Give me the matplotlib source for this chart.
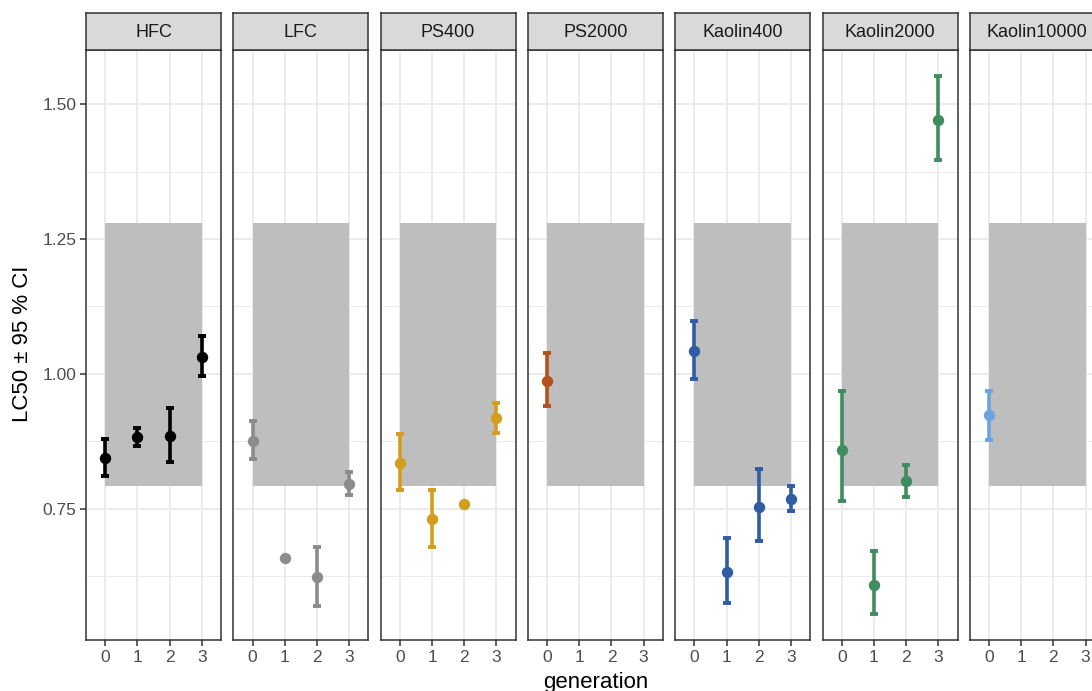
import numpy as np
import matplotlib
matplotlib.use("Agg")
import matplotlib.pyplot as plt
from matplotlib.patches import Rectangle

plt.rcParams['font.family'] = ['Liberation Sans', 'DejaVu Sans']

# Treatments (facets) and their colours
treatments = ["HFC", "LFC", "PS400", "PS2000", "Kaolin400", "Kaolin2000", "Kaolin10000"]
colors = ["#000000", "#8C8C8C", "#D39D1E", "#B5501B", "#2F5CA5", "#3F8C5E", "#6FA3DF"]

generations = [0, 1, 2, 3]

# LC50 estimates and 95 % confidence limits per generation
nan = np.nan
hfc_lc50 = [0.844, 0.882, 0.884, 1.032]
hfc_low = [0.810, 0.866, 0.837, 0.996]
hfc_high = [0.879, 0.899, 0.937, 1.070]

lfc_lc50 = [0.875, 0.658, 0.622, 0.795]
lfc_low = [0.841, nan, 0.569, 0.775]
lfc_high = [0.912, nan, 0.679, 0.818]

ps400_lc50 = [0.835, 0.730, 0.758, 0.918]
ps400_low = [0.785, 0.678, nan, 0.890]
ps400_high = [0.888, 0.784, nan, 0.945]

ps2000_lc50 = [0.987]
ps2000_low = [0.941]
ps2000_high = [1.038]

kaolin400_lc50 = [1.043, 0.632, 0.753, 0.768]
kaolin400_low = [0.991, 0.574, 0.690, 0.745]
kaolin400_high = [1.098, 0.696, 0.824, 0.791]

kaolin2000_lc50 = [0.859, 0.609, 0.801, 1.471]
kaolin2000_low = [0.764, 0.554, 0.772, 1.396]
kaolin2000_high = [0.968, 0.671, 0.831, 1.552]

kaolin10000_lc50 = [0.923]
kaolin10000_low = [0.878]
kaolin10000_high = [0.968]

series = [
    (hfc_lc50, hfc_low, hfc_high),
    (lfc_lc50, lfc_low, lfc_high),
    (ps400_lc50, ps400_low, ps400_high),
    (ps2000_lc50, ps2000_low, ps2000_high),
    (kaolin400_lc50, kaolin400_low, kaolin400_high),
    (kaolin2000_lc50, kaolin2000_low, kaolin2000_high),
    (kaolin10000_lc50, kaolin10000_low, kaolin10000_high),
]

# Reference band (control range) drawn in every panel
band_low, band_high = 0.791, 1.28

y_ticks = [0.75, 1.00, 1.25, 1.50]
y_minor = [0.625, 0.875, 1.125, 1.375]

W, H = 1092, 691
fig = plt.figure(figsize=(W / 100, H / 100), dpi=100)
fig.patch.set_facecolor("white")

panel_left0 = 86
panel_step = 147.3
panel_w = 135
panel_top = 50
panel_bottom = 640
strip_top = 13

dark = "#333333"
grid_c = "#EBEBEB"

for i, (name, col, (lc, lo, hi)) in enumerate(zip(treatments, colors, series)):
    x0 = panel_left0 + i * panel_step
    ax = fig.add_axes([x0 / W, (H - panel_bottom) / H, panel_w / W,
                       (panel_bottom - panel_top) / H])
    ax.set_xlim(-0.6, 3.6)
    ax.set_ylim(0.506, 1.601)
    ax.set_facecolor("white")
    for y in y_minor:
        ax.axhline(y, color=grid_c, lw=0.7, zorder=0)
    for y in y_ticks:
        ax.axhline(y, color=grid_c, lw=1.4, zorder=0)
    for g in generations:
        ax.axvline(g, color=grid_c, lw=1.4, zorder=0)

    ax.add_patch(Rectangle((0, band_low), 3, band_high - band_low,
                           facecolor="#BEBEBE", edgecolor="none", zorder=1))

    gens_a = np.array(generations[:len(lc)])
    lc_a = np.array(lc, dtype=float)
    lo_a = np.array(lo, dtype=float)
    hi_a = np.array(hi, dtype=float)
    ok = ~np.isnan(lo_a)
    if ok.any():
        ax.errorbar(gens_a[ok], lc_a[ok],
                    yerr=[lc_a[ok] - lo_a[ok], hi_a[ok] - lc_a[ok]],
                    fmt="none", ecolor=col, elinewidth=2.6, capsize=2.6,
                    capthick=2.8, zorder=3)
    ax.plot(gens_a, lc_a, "o", color=col, markersize=8.2, mec="none", zorder=4)

    ax.set_xticks(generations)
    ax.set_xticklabels([str(g) for g in generations])
    ax.set_yticks(y_ticks)
    ax.set_yticklabels(["%.2f" % v for v in y_ticks])
    ax.tick_params(axis="both", colors=dark, labelcolor="#4D4D4D",
                   labelsize=12.5, length=4, width=1.1, pad=3)
    if i > 0:
        ax.tick_params(axis="y", left=False, labelleft=False)
    for s in ax.spines.values():
        s.set_color(dark)
        s.set_linewidth(1.1)

    # facet strip
    sax = fig.add_axes([x0 / W, (H - panel_top) / H, panel_w / W,
                        (panel_top - strip_top) / H])
    sax.set_facecolor("#D9D9D9")
    sax.set_xticks([])
    sax.set_yticks([])
    for s in sax.spines.values():
        s.set_color(dark)
        s.set_linewidth(1.1)
    sax.text(0.5, 0.47, name, ha="center", va="center", fontsize=13,
             color="#1A1A1A", transform=sax.transAxes)

fig.text(23 / W, 1 - 344 / H, "LC50 \u00b1 95 % CI", rotation=90,
         ha="center", va="center", fontsize=16, color="black")
fig.text(596 / W, 1 - 688 / H, "generation", ha="center", va="baseline",
         fontsize=16, color="black")

fig.savefig("out.png", dpi=100)
